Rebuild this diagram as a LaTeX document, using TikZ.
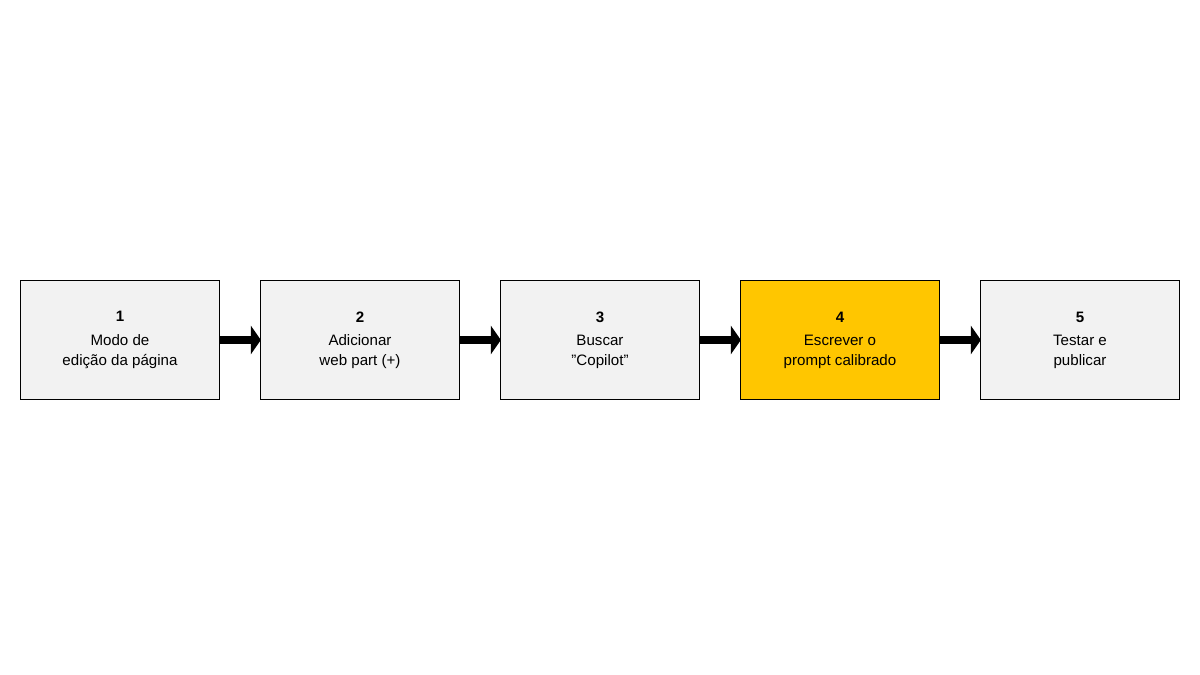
\documentclass[tikz,border=0pt]{standalone}
\usepackage{fontspec}
\setmainfont{Liberation Sans}
\usetikzlibrary{arrows.meta}
\definecolor{boxgray}{HTML}{F2F2F2}
\definecolor{boxyellow}{HTML}{FFC600}
\begin{document}
\begin{tikzpicture}[x=0.02cm,y=-0.02cm,
  stepbox/.style={draw=black,line width=0.8pt,fill=boxgray,minimum width=200*0.02cm-0.8pt,minimum height=120*0.02cm-0.8pt,align=center,font=\fontsize{8.6}{11.3}\selectfont,inner sep=0pt},
  flow/.style={line width=4.5pt,-{Triangle[length=5.7pt 0 0,width=16pt 0 0]},shorten >=-0.5pt}]
\useasboundingbox (0,0) rectangle (1200,675);
\fill[white] (0,0) rectangle (1200,675);
\node[stepbox] (s1) at (120,340) {\textbf{1}\\[2pt]Modo de\\edição da página};
\node[stepbox] (s2) at (360,340) {\textbf{2}\\[2pt]Adicionar\\web part (+)};
\node[stepbox] (s3) at (600,340) {\textbf{3}\\[2pt]Buscar\\"Copilot"};
\node[stepbox,fill=boxyellow] (s4) at (840,340) {\textbf{4}\\[2pt]Escrever o\\prompt calibrado};
\node[stepbox] (s5) at (1080,340) {\textbf{5}\\[2pt]Testar e\\publicar};
\foreach \a/\b in {s1/s2,s2/s3,s3/s4,s4/s5}
  \draw[flow] (\a.east) -- (\b.west);
\end{tikzpicture}
\end{document}
